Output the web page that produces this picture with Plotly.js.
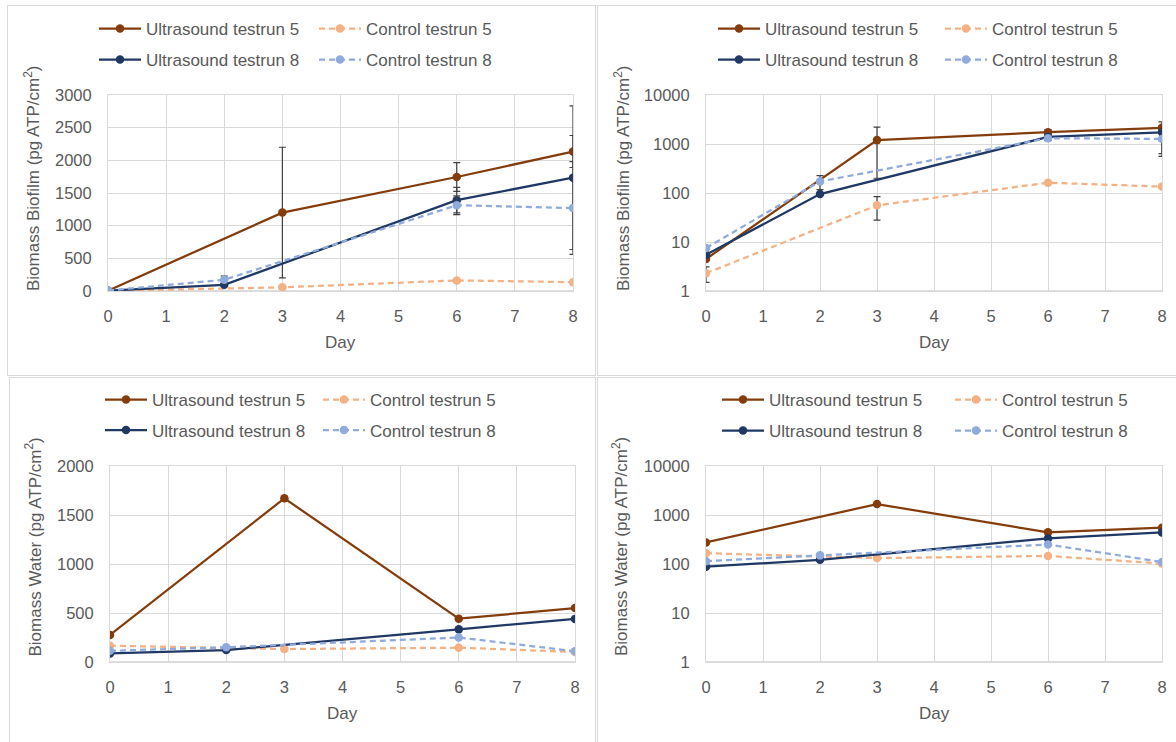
<!DOCTYPE html>
<html>
<head>
<meta charset="utf-8">
<script src="https://cdn.plot.ly/plotly-3.0.1.min.js"></script>
<style>
  html, body { margin: 0; padding: 0; background: #fff; }
  body { width: 1176px; height: 742px; overflow: hidden; position: relative; }
  .panel { position: absolute; border: 1px solid #d9d9d9; background: #fff; overflow: hidden; box-sizing: content-box; }
</style>
</head>
<body>
<div id="p1" class="panel" style="left:7px;top:5px;width:587px;height:369px"></div>
<div id="p2" class="panel" style="left:597px;top:5px;width:580px;height:369px"></div>
<div id="p3" class="panel" style="left:9px;top:377px;width:585px;height:370px"></div>
<div id="p4" class="panel" style="left:597px;top:377px;width:580px;height:370px"></div>
<script>
// ---------------- data ----------------
const seriesNames = ['Ultrasound testrun 5', 'Control testrun 5', 'Ultrasound testrun 8', 'Control testrun 8'];
const daysRun5 = [0, 3, 6, 8];
const daysRun8 = [0, 2, 6, 8];

// Biomass biofilm (pg ATP/cm2)
const biofilmUS5 = [4.5, 1200, 1745, 2135];
const biofilmUS5Err = [NaN, 1000, 220, 245];
const biofilmC5 = [2.3, 56, 162, 135];
const biofilmC5Err = [0.8, 28, NaN, NaN];
const biofilmUS8 = [5.5, 95, 1390, 1735];
const biofilmUS8Err = [NaN, NaN, 195, 1100];
const biofilmC8 = [7.5, 172, 1312, 1270];
const biofilmC8Err = [NaN, 55, 143, 710];

// Biomass water (pg ATP/cm2)
const waterUS5 = [276, 1670, 442, 550];
const waterC5 = [166, 132, 146, 102];
const waterUS8 = [88, 122, 333, 440];
const waterC8 = [114, 150, 250, 110];

const xTickVals = [0, 1, 2, 3, 4, 5, 6, 7, 8];
const xTickText = ['0', '1', '2', '3', '4', '5', '6', '7', '8'];
const logTickVals = [1, 10, 100, 1000, 10000];
const logTickText = ['1', '10', '100', '1000', '10000'];
const linBiofilmTicks = [0, 500, 1000, 1500, 2000, 2500, 3000];
const linWaterTicks = [0, 500, 1000, 1500, 2000];

// ---------------- style ----------------
const FONT = 'Liberation Sans, Arial, sans-serif';
const TXT = '#595959';
const COLORS = ['#843C0C', '#F4B183', '#1F3864', '#8FAADC'];
const DASHES = ['solid', '6px,4px', 'solid', '6px,4px'];

function buildTraces(xs, ys, errs) {
  return ys.map(function (y, i) {
    const t = {
      type: 'scatter', mode: 'lines+markers',
      x: xs[i], y: y, name: seriesNames[i],
      line: { color: COLORS[i], width: 2.25, dash: DASHES[i] },
      marker: { color: COLORS[i], size: 8.5, symbol: 'circle' },
      legend: i === 0 ? 'legend' : 'legend' + (i + 1),
      cliponaxis: true
    };
    if (errs && errs[i]) {
      t.error_y = { type: 'data', array: errs[i], visible: true, color: '#404040', thickness: 1.2, width: 3.5 };
    }
    return t;
  });
}

function makePanel(id, W, H, m, opts) {
  // legend item positions, in px inside panel: [symbolStartX, centerY]
  const legends = {};
  opts.legendPos.forEach(function (p, i) {
    const key = i === 0 ? 'legend' : 'legend' + (i + 1);
    legends[key] = {
      xref: 'container', yref: 'container',
      x: (p[0] - 5) / W, y: 1 - p[1] / H,
      xanchor: 'left', yanchor: 'middle',
      orientation: 'h', bgcolor: 'rgba(0,0,0,0)', borderwidth: 0,
      itemwidth: 42,
      font: { family: FONT, size: 17, color: TXT }
    };
  });
  const yaxis = {
    type: opts.yType, range: opts.yRange,
    tickmode: 'array', tickvals: opts.yTickVals, ticktext: opts.yTickText,
    showgrid: true, gridcolor: '#d9d9d9', gridwidth: 1,
    showline: true, linecolor: '#d9d9d9', linewidth: 1, mirror: true,
    zeroline: false, ticks: '', ticklabelstandoff: 12,
    tickfont: { family: FONT, size: 16.5, color: TXT }, fixedrange: true
  };
  const xaxis = {
    type: 'linear', range: [0, 8],
    tickmode: 'array', tickvals: xTickVals, ticktext: xTickText,
    showgrid: true, gridcolor: '#d9d9d9', gridwidth: 1,
    showline: true, linecolor: '#d9d9d9', linewidth: 1, mirror: true,
    zeroline: false, ticks: '', ticklabelstandoff: 10,
    tickfont: { family: FONT, size: 16.5, color: TXT }, fixedrange: true
  };
  const layout = Object.assign({
    width: W, height: H,
    margin: m,
    paper_bgcolor: '#ffffff', plot_bgcolor: '#ffffff',
    showlegend: true,
    font: { family: FONT, color: TXT },
    xaxis: xaxis, yaxis: yaxis,
    shapes: [{
      type: 'line', xref: 'paper', yref: 'paper', x0: 0, x1: 1, y0: 0, y1: 0,
      line: { color: '#bfbfbf', width: 1 }, layer: 'below'
    }],
    annotations: [
      { text: 'Day', xref: 'paper', yref: 'paper', x: 0.5, y: 0, xanchor: 'center', yanchor: 'middle',
        yshift: -51.5, showarrow: false, font: { family: FONT, size: 17, color: TXT } },
      { text: opts.yTitle, xref: 'paper', yref: 'paper', x: 0, y: 0.5, xanchor: 'center', yanchor: 'middle',
        xshift: opts.yTitleShift[0], yshift: opts.yTitleShift[1], textangle: -90, showarrow: false,
        font: { family: FONT, size: 17, color: TXT } }
    ]
  }, legends);
  Plotly.newPlot(id, opts.traces, layout, { staticPlot: true, displayModeBar: false });
}

const xsAll = [daysRun5, daysRun5, daysRun8, daysRun8];

// Top-left: biofilm linear
makePanel('p1', 587, 369, { l: 100, r: 22, t: 89, b: 84, pad: 0 }, {
  yType: 'linear', yRange: [0, 3000], yTickVals: linBiofilmTicks, yTickText: linBiofilmTicks.map(String),
  yTitle: 'Biomass Biofilm (pg ATP/cm<sup>2</sup>)', yTitleShift: [-76, 14],
  traces: buildTraces(xsAll, [biofilmUS5, biofilmC5, biofilmUS8, biofilmC8],
    [biofilmUS5Err, biofilmC5Err, biofilmUS8Err, biofilmC8Err]),
  legendPos: [[91, 23], [311, 23], [91, 54], [311, 54]]
});

// Top-right: biofilm log
makePanel('p2', 580, 369, { l: 108, r: 16, t: 89, b: 84, pad: 0 }, {
  yType: 'log', yRange: [0, 4], yTickVals: logTickVals, yTickText: logTickText,
  yTitle: 'Biomass Biofilm (pg ATP/cm<sup>2</sup>)', yTitleShift: [-84, 14],
  traces: buildTraces(xsAll, [biofilmUS5, biofilmC5, biofilmUS8, biofilmC8],
    [biofilmUS5Err, biofilmC5Err, biofilmUS8Err, biofilmC8Err]),
  legendPos: [[120, 23], [347, 23], [120, 54], [347, 54]]
});

// Bottom-left: water linear
makePanel('p3', 585, 370, { l: 100, r: 20, t: 88, b: 86, pad: 0 }, {
  yType: 'linear', yRange: [0, 2000], yTickVals: linWaterTicks, yTickText: linWaterTicks.map(String),
  yTitle: 'Biomass Water (pg ATP/cm<sup>2</sup>)', yTitleShift: [-77, 16.5],
  traces: buildTraces(xsAll, [waterUS5, waterC5, waterUS8, waterC8], null),
  legendPos: [[95, 22], [313, 22], [95, 52.5], [313, 52.5]]
});

// Bottom-right: water log
makePanel('p4', 580, 370, { l: 108, r: 16, t: 88, b: 86, pad: 0 }, {
  yType: 'log', yRange: [0, 4], yTickVals: logTickVals, yTickText: logTickText,
  yTitle: 'Biomass Water (pg ATP/cm<sup>2</sup>)', yTitleShift: [-86, 17],
  traces: buildTraces(xsAll, [waterUS5, waterC5, waterUS8, waterC8], null),
  legendPos: [[124, 22], [357, 22], [124, 53], [357, 53]]
});
</script>
</body>
</html>
